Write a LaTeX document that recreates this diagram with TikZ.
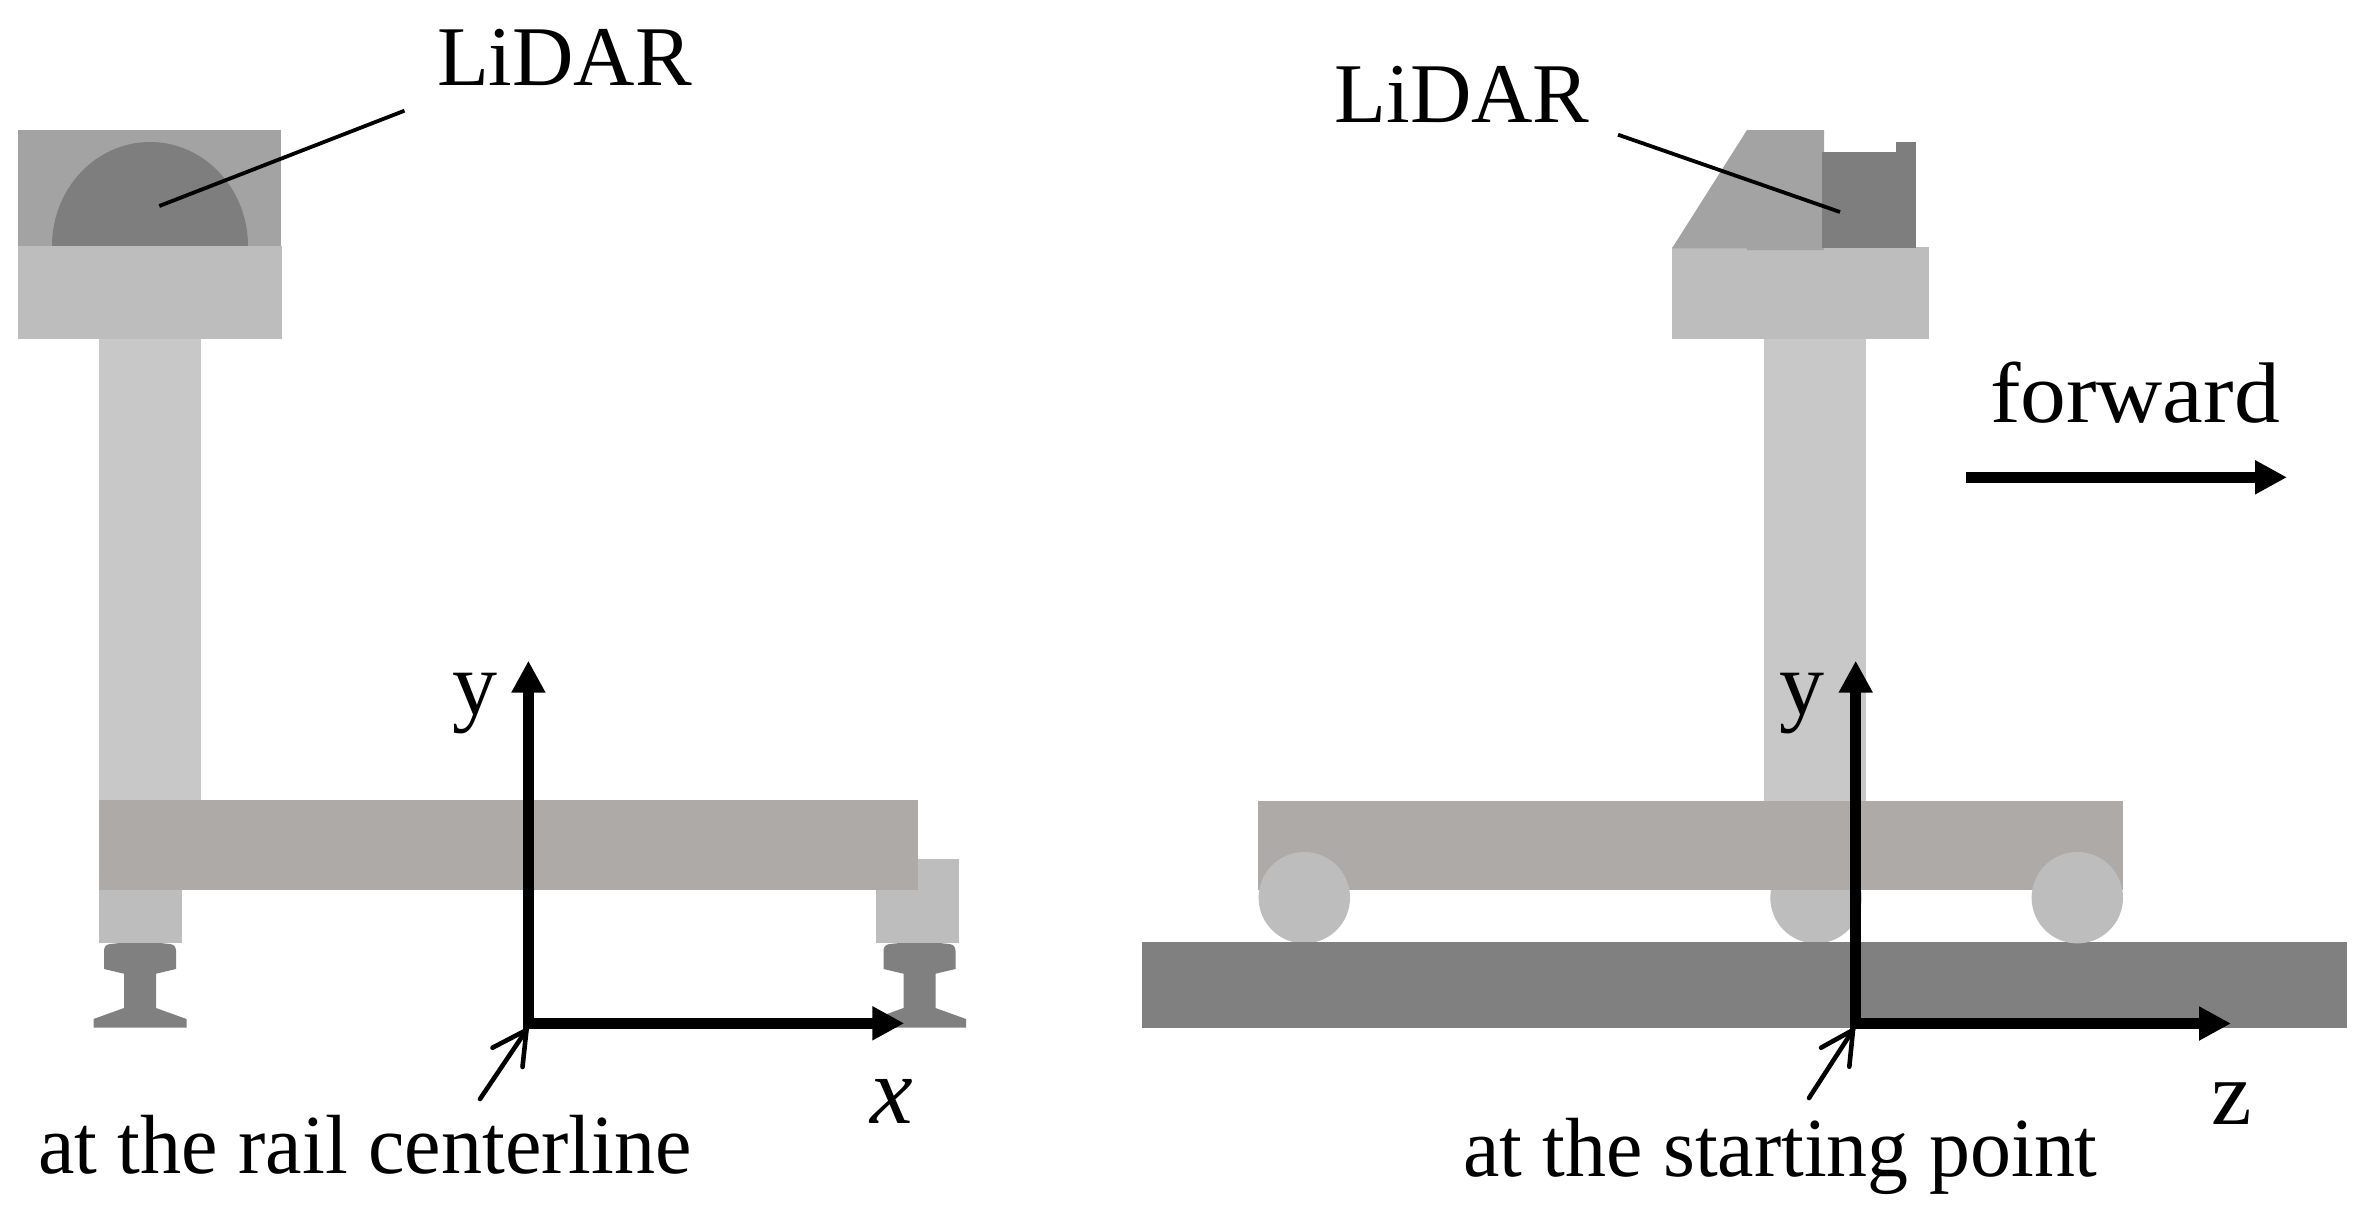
\documentclass[tikz,border=0pt]{standalone}
\usepackage{graphicx}
\usepackage{fontspec}
\setmainfont{Liberation Serif}
\usetikzlibrary{arrows.meta}
\definecolor{cMount}{HTML}{A3A3A3}
\definecolor{cDark}{HTML}{7E7E7E}
\definecolor{cLight}{HTML}{BDBDBD}
\definecolor{cColumn}{HTML}{C8C8C8}
\definecolor{cBeam}{HTML}{AEAAA8}
\definecolor{cRail}{HTML}{808080}
\newcommand{\railprofile}[1]{%
  \fill[cRail] (#1-20,943) -- (#1+20,943) -- (#1+30,944) .. controls (#1+34,944.5) and (#1+36,947) .. (#1+36,951)
    -- (#1+36,969) -- (#1+16,973.7) -- (#1+16,1008) -- (#1+46.5,1019) -- (#1+46.5,1027.7)
    -- (#1-46.5,1027.7) -- (#1-46.5,1019) -- (#1-16,1008) -- (#1-16,973.7) -- (#1-36,969)
    -- (#1-36,951) .. controls (#1-36,947) and (#1-34,944.5) .. (#1-30,944) -- cycle;}
\tikzset{
  lbl/.style={inner sep=0pt,outer sep=0pt,anchor=base west,text=black},
  axisarrow/.style={line width=10.7pt,black,-{Triangle[length=32pt,width=32pt]}},
  leader/.style={line width=3.8pt,black},
  pointer/.style={line width=4.6pt,black,line cap=round,line join=miter},
}
\begin{document}
\begin{tikzpicture}[x=1pt,y=-1pt]
\useasboundingbox[fill=white] (0,0) rectangle (2365,1218);
% ---- left view
\fill[cMount] (17.5,130) rectangle (281,246);
\fill[cDark] (52,246) arc[start angle=180,end angle=0,x radius=98pt,y radius=104pt] -- cycle;
\fill[cColumn] (99,339) rectangle (201,800);
\fill[cLight] (17.5,246) rectangle (282,339);
\fill[cLight] (876,859) rectangle (959,943);
\fill[cLight] (99,890) rectangle (182,943);
\fill[cBeam] (99,800) rectangle (918,890);
\railprofile{140}
\railprofile{919.5}
% ---- right view
\fill[cColumn] (1764,339) rectangle (1866,801);
\fill[cLight] (1816,897.7) circle[radius=45.7pt];
\fill[cBeam] (1258,801) rectangle (2123,890);
\fill[cLight] (1304.3,897.7) circle[radius=45.7pt];
\fill[cRail] (1142,942) rectangle (2347,1027.7);
\fill[cLight] (2077.3,897.7) circle[radius=45.7pt];
\fill[cLight] (1672,247) rectangle (1929,339);
\fill[cMount] (1747,130) -- (1824,130) -- (1824,250) -- (1747,250) -- (1747,248.3) -- (1672,248.3) -- cycle;
\fill[cDark] (1822,152) rectangle (1916,248);
\fill[cDark] (1896,142) rectangle (1916,152);
% ---- labels
\node[lbl,font=\fontsize{85}{85}\selectfont] (lidarL) at (437,85) {LiDAR};
\node[lbl,font=\fontsize{85}{85}\selectfont] (lidarR) at (1334.5,122) {LiDAR};
\node[lbl,font=\fontsize{86}{86}\selectfont] (fwd) at (1990,422.7) {\scalebox{1.065}[1]{forward}};
\node[lbl,font=\fontsize{90}{90}\selectfont] (yL) at (452,714) {y};
\node[lbl,font=\fontsize{90}{90}\selectfont] (yR) at (1779,714) {y};
\node[lbl,font=\fontsize{96}{96}\selectfont\itshape] (xL) at (870,1123) {x};
\node[lbl,font=\fontsize{91}{91}\selectfont] (zR) at (2211,1124) {z};
\node[lbl,font=\fontsize{84}{84}\selectfont] (capL) at (38,1173) {\scalebox{.977}[1]{at the rail centerline}};
\node[lbl,font=\fontsize{84}{84}\selectfont] (capR) at (1463,1176) {\scalebox{.975}[1]{at the starting point}};
% ---- leaders
\coordinate (lA) at (404.5,110.7);
\coordinate (lB) at (159.3,206);
\coordinate (rA) at (1618,134.7);
\coordinate (rB) at (1840,212);
\draw[leader] (lA) -- (lB);
\draw[leader] (rA) -- (rB);
% ---- axes
\coordinate (oLy) at (528.4,1028.3);
\coordinate (tLy) at (528.4,660.7);
\coordinate (oLx) at (523,1023.3);
\coordinate (tLx) at (904.3,1023.3);
\coordinate (oRy) at (1855.7,1028.7);
\coordinate (tRy) at (1855.7,660.7);
\coordinate (oRx) at (1850.3,1023.5);
\coordinate (tRx) at (2231,1023.5);
\draw[axisarrow] (oLy) -- (tLy);
\draw[axisarrow] (oLx) -- (tLx);
\draw[axisarrow] (oRy) -- (tRy);
\draw[axisarrow] (oRx) -- (tRx);
\coordinate (fA) at (1966,477.3);
\coordinate (fB) at (2287,477.3);
\draw[axisarrow] (fA) -- (fB);
% ---- pointers
\coordinate (pLs) at (480,1099);
\coordinate (pLt) at (526.5,1030);
\coordinate (pLa) at (492.5,1047.7);
\coordinate (pLb) at (522.5,1067);
\draw[pointer] (pLs) -- (pLt);
\draw[pointer] (pLa) -- (pLt) -- (pLb);
\coordinate (pRs) at (1809,1098);
\coordinate (pRt) at (1853,1030);
\coordinate (pRa) at (1821,1047.7);
\coordinate (pRb) at (1849.3,1066.7);
\draw[pointer] (pRs) -- (pRt);
\draw[pointer] (pRa) -- (pRt) -- (pRb);
\end{tikzpicture}
\end{document}
